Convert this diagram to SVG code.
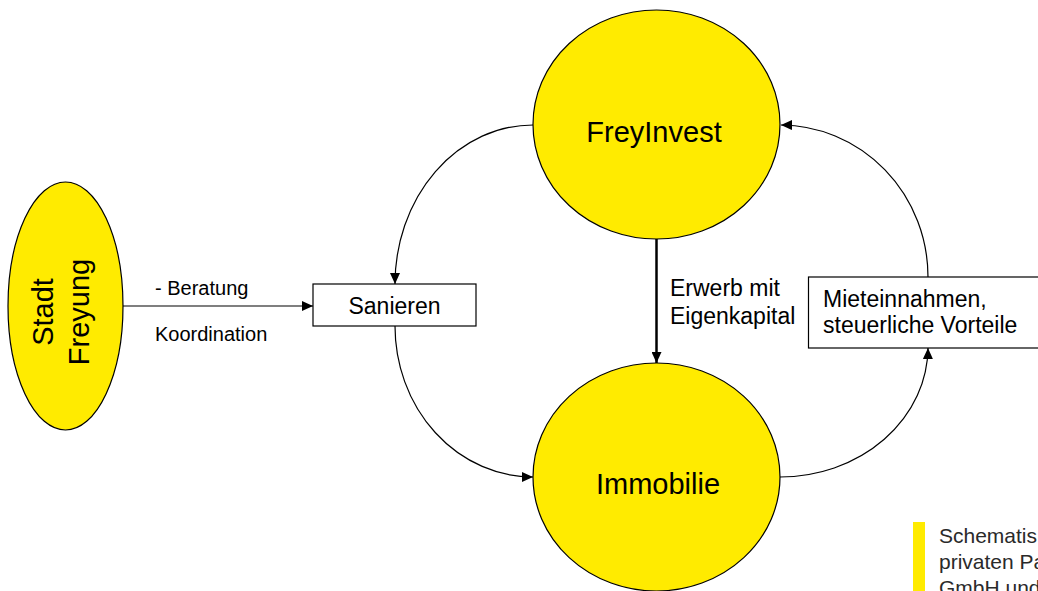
<svg xmlns="http://www.w3.org/2000/svg" width="1038" height="591" viewBox="0 0 1038 591">
  <style>
    .node { fill: #FFEB00; stroke: #000; stroke-width: 1.2; }
    .box { fill: #fff; stroke: #000; stroke-width: 1.2; }
    .t { font-family: "Liberation Sans", Arial, sans-serif; fill: #000; }
    .big { font-size: 29px; text-anchor: middle; }
    .mid { font-size: 23px; }
    .small { font-size: 20px; }
    .conn { fill: none; stroke: #000; stroke-width: 1.2; }
    .thick { fill: none; stroke: #000; stroke-width: 2.5; }
    .note { font-family: "Liberation Sans", Arial, sans-serif; font-size: 21px; fill: #2a2a2a; }
  </style>
  <defs>
    <marker id="arr" markerWidth="12" markerHeight="10" refX="11" refY="5" orient="auto" markerUnits="userSpaceOnUse">
      <path d="M0,0 L11,5 L0,10 Z" fill="#000"/>
    </marker>
  </defs>
  <rect width="1038" height="591" fill="#fff"/>

  <g id="connectors">
    <path class="conn" d="M123,306 L313,306" marker-end="url(#arr)"/>
    <path class="conn" d="M533,125 A138,159 0 0 0 395,284" marker-end="url(#arr)"/>
    <path class="conn" d="M395,326 A138,151 0 0 0 533,477" marker-end="url(#arr)"/>
    <path class="conn" d="M780,477 A148,130 0 0 0 928,348" marker-end="url(#arr)"/>
    <path class="conn" d="M928,277 A148,152 0 0 0 781,125" marker-end="url(#arr)"/>
    <path class="thick" d="M656.5,239 L656.5,363" marker-end="url(#arr)"/>
  </g>

  <g id="stadt">
    <ellipse class="node" cx="65.5" cy="306" rx="57.5" ry="124"/>
    <text class="t big" transform="translate(53,312) rotate(-90)">Stadt</text>
    <text class="t big" transform="translate(89,312) rotate(-90)">Freyung</text>
  </g>

  <g id="freyinvest">
    <ellipse class="node" cx="656.5" cy="124.5" rx="123.5" ry="114.5"/>
    <text class="t big" x="654" y="142">FreyInvest</text>
  </g>

  <g id="immobilie">
    <ellipse class="node" cx="656.5" cy="477" rx="123.5" ry="114"/>
    <text class="t big" x="658" y="494">Immobilie</text>
  </g>

  <g id="sanieren">
    <rect class="box" x="313" y="284" width="163" height="42"/>
    <text class="t mid" x="394.5" y="314" text-anchor="middle">Sanieren</text>
  </g>

  <g id="mieteinnahmen">
    <rect class="box" x="808.5" y="277" width="240" height="71"/>
    <text class="t mid" x="823" y="307">Mieteinnahmen,</text>
    <text class="t mid" x="823" y="333">steuerliche Vorteile</text>
  </g>

  <g id="labels">
    <text class="t small" x="155" y="295">- Beratung</text>
    <text class="t small" x="155" y="341">Koordination</text>
    <text class="t mid" x="670" y="296">Erwerb mit</text>
    <text class="t mid" x="670" y="324">Eigenkapital</text>
  </g>

  <g id="note">
    <rect x="913" y="522" width="12" height="75" fill="#FFEB00"/>
    <text class="note" x="939" y="543">Schematis</text>
    <text class="note" x="939" y="569">privaten Pa</text>
    <text class="note" x="939" y="595">GmbH und</text>
  </g>
</svg>
